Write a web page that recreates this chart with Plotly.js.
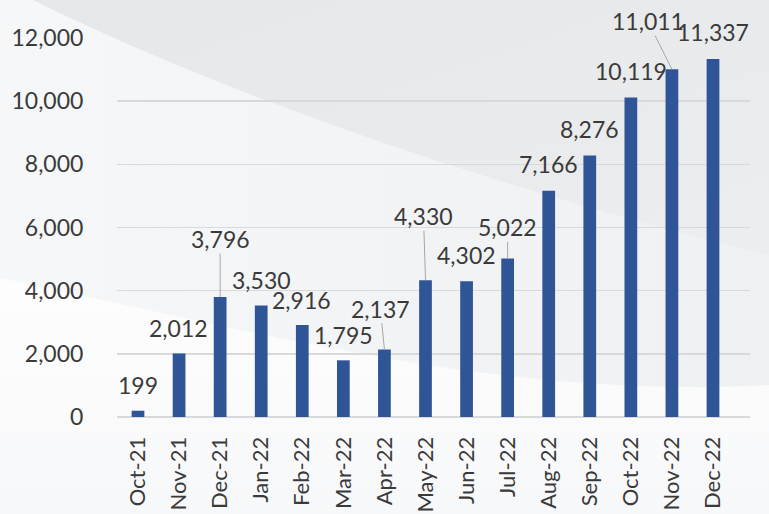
<!DOCTYPE html>
<html>
<head>
<meta charset="utf-8">
<script src="https://cdn.plot.ly/plotly-3.0.1.min.js"></script>
<style>
  html, body { margin: 0; padding: 0; background: #fff; }
  #wrap { position: relative; width: 769px; height: 514px; overflow: hidden; }
  #bg { position: absolute; left: 0; top: 0; }
  #chart { position: absolute; left: 0; top: 0; width: 769px; height: 514px; }
</style>
</head>
<body>
<div id="wrap">
  <svg id="bg" width="769" height="514" xmlns="http://www.w3.org/2000/svg">
    <defs>
      <linearGradient id="mid" x1="0" y1="0" x2="1" y2="0">
        <stop offset="0" stop-color="#F6F7F8"/>
        <stop offset="1" stop-color="#EFF0F2"/>
      </linearGradient>
      <linearGradient id="top" x1="0" y1="0" x2="1" y2="1">
        <stop offset="0" stop-color="#E6E7E9"/>
        <stop offset="1" stop-color="#ECEDEF"/>
      </linearGradient>
      <linearGradient id="bot" x1="0" y1="0" x2="0" y2="1">
        <stop offset="0" stop-color="#FDFDFE"/>
        <stop offset="1" stop-color="#F7F8F9"/>
      </linearGradient>
    </defs>
    <rect x="0" y="0" width="769" height="514" fill="url(#mid)"/>
    <path d="M33,0 C150,58 400,165 769,255 L769,0 Z" fill="url(#top)"/>
    <path d="M0,278 C250,330 500,400 769,385 L769,514 L0,514 Z" fill="url(#bot)"/>
  </svg>
  <div id="chart"></div>
</div>
<script>
const categories = ["Oct-21","Nov-21","Dec-21","Jan-22","Feb-22","Mar-22","Apr-22","May-22","Jun-22","Jul-22","Aug-22","Sep-22","Oct-22","Nov-22","Dec-22"];
const values = [199, 2012, 3796, 3530, 2916, 1795, 2137, 4330, 4302, 5022, 7166, 8276, 10119, 11011, 11337];
const yTicks = [0, 2000, 4000, 6000, 8000, 10000, 12000];

// label placement (pixel offsets from bar top) and whether a leader line is drawn
const labelOffsets = [[0,-26],[-1,-25],[0,-58],[0,-26],[-1,-25],[0,-25],[-4,-41],[-2,-64],[0,-26],[0,-31],[0,-27],[0,-27],[0,-26],[-24,-48],[0,-27]];
const leaderLines = [false,false,true,false,false,false,true,true,false,true,false,false,false,true,false];

const FONT = "Lato, 'Open Sans', sans-serif";
const TEXT = "#3A3A3A";

const annotations = categories.map((c, i) => ({
  x: c, y: values[i], xref: "x", yref: "y",
  text: values[i].toLocaleString("en-US"),
  showarrow: true,
  arrowhead: 0, arrowwidth: 1,
  arrowcolor: leaderLines[i] ? "#A6A6A6" : "rgba(0,0,0,0)",
  standoff: 0, startstandoff: 0,
  ax: labelOffsets[i][0], ay: labelOffsets[i][1],
  font: { family: FONT, size: 23, color: TEXT },
  borderpad: 0
}));

const trace = {
  type: "bar",
  x: categories,
  y: values,
  marker: { color: "#2F5597", line: { width: 0 } },
  hoverinfo: "none"
};

const layout = {
  width: 769, height: 514,
  margin: { l: 117, r: 19, t: 38, b: 97 },
  paper_bgcolor: "rgba(0,0,0,0)",
  plot_bgcolor: "rgba(0,0,0,0)",
  showlegend: false,
  bargap: 0.69,
  font: { family: FONT, size: 23, color: TEXT },
  xaxis: {
    type: "category",
    tickangle: -90,
    ticks: "outside", ticklen: 10, tickcolor: "rgba(0,0,0,0)",
    showgrid: false, showline: false, zeroline: false,
    tickfont: { family: FONT, size: 22, color: TEXT }
  },
  yaxis: {
    range: [0, 12000],
    tickvals: yTicks,
    ticktext: yTicks.map(v => v.toLocaleString("en-US")),
    ticks: "outside", ticklen: 28, tickcolor: "rgba(0,0,0,0)",
    showgrid: true, gridcolor: "#D9D9D9", gridwidth: 1.5,
    zeroline: true, zerolinecolor: "#D9D9D9", zerolinewidth: 1.5,
    showline: false,
    tickfont: { family: FONT, size: 23, color: TEXT }
  },
  annotations: annotations
};

Plotly.newPlot("chart", [trace], layout, { displayModeBar: false, staticPlot: true });
</script>
</body>
</html>
